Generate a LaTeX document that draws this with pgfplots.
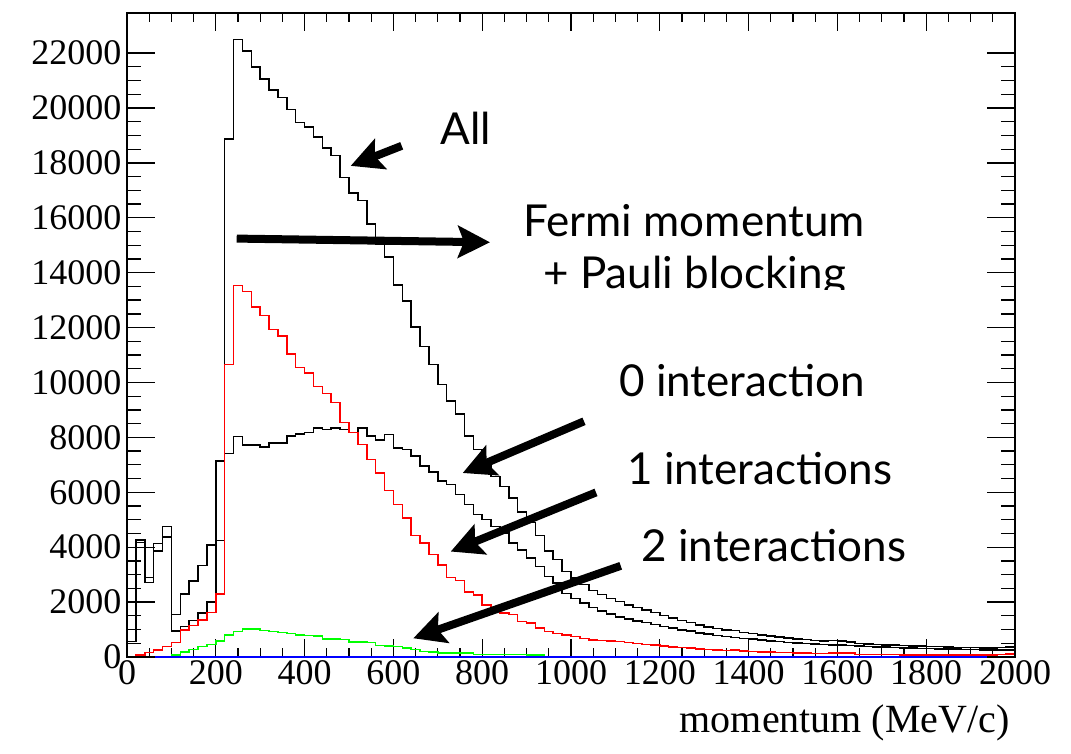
\documentclass[border=0pt]{standalone}
\usepackage{fontspec}
\setmainfont{Liberation Serif}
\newfontfamily\gill{Lato}
\usepackage{pgfplots}
\usepackage{pgfplotstable}
\pgfplotsset{compat=1.18}
\usetikzlibrary{arrows.meta}

\pgfplotstableread{
x all zero one two
0 560 560 0 0
20 4270 4180 70 0
40 2900 2720 160 0
60 4130 3870 255 0
80 4750 4370 380 0
100 1540 940 530 70
120 2290 1110 990 190
140 2760 1330 1150 280
160 3330 1600 1350 380
180 4080 2000 1620 460
200 7135 4250 2300 585
220 18870 7420 10650 800
240 22500 8030 13540 930
260 22070 7730 13320 1020
280 21500 7730 12750 1020
300 21050 7650 12440 960
320 20650 7790 11930 930
340 20380 7790 11690 900
360 19950 8050 11040 860
380 19470 8120 10550 800
400 19310 8180 10350 780
420 18950 8340 9850 760
440 18540 8280 9600 660
460 18270 8340 9270 660
480 17460 8280 8540 640
500 16900 8180 8180 540
520 16630 8340 7750 540
540 15770 8050 7200 520
560 15025 7900 6710 415
580 14570 8100 6070 400
600 13560 7620 5560 380
620 12960 7560 5070 330
640 12020 7320 4420 280
660 11320 6960 4160 200
680 10660 6740 3730 190
700 9920 6410 3360 150
720 9330 6290 2900 140
740 8850 5920 2790 140
760 8050 5550 2360 140
780 7550 5200 2250 100
800 7000 5000 1900 100
820 6580 4760 1720 100
840 6220 4520 1600 100
860 5790 4150 1540 100
880 5290 3900 1290 100
900 4900 3600 1230 70
920 4420 3300 1050 70
940 3855 2930 925 0
960 3555 2690 865 0
980 3120 2320 800 0
1000 2880 2140 740 0
1020 2640 1960 680 0
1040 2420 1800 620 0
1060 2280 1680 600 0
1080 2140 1560 580 0
1100 2020 1460 560 0
1120 1900 1380 520 0
1140 1800 1310 490 0
1160 1710 1250 460 0
1180 1620 1190 430 0
1200 1510 1110 400 0
1220 1420 1050 370 0
1240 1330 990 340 0
1260 1260 940 320 0
1280 1170 880 290 0
1300 1100 830 270 0
1320 1040 790 250 0
1340 990 750 240 0
1360 960 710 250 0
1380 900 680 220 0
1400 850 650 200 0
1420 810 620 190 0
1440 770 590 180 0
1460 730 560 170 0
1480 695 535 160 0
1500 660 510 150 0
1520 630 490 140 0
1540 605 475 130 0
1560 580 460 120 0
1580 595 445 150 0
1600 580 430 150 0
1620 555 415 140 0
1640 500 400 100 0
1660 475 385 90 0
1680 462 372 90 0
1700 445 360 85 0
1720 433 348 85 0
1740 417 337 80 0
1760 407 327 80 0
1780 397 317 80 0
1800 383 308 75 0
1820 375 300 75 0
1840 367 292 75 0
1860 354 284 70 0
1880 347 277 70 0
1900 340 270 70 0
1920 334 264 70 0
1940 328 258 70 0
1960 352 252 100 0
1980 356 246 110 0
2000 356 246 110 0
}\histdata

\begin{document}
\begin{tikzpicture}
\useasboundingbox (0,0) rectangle (1071pt,753pt);
\begin{axis}[
  at={(127pt,96pt)}, anchor=south west,
  scale only axis, width=888pt, height=644pt,
  xmin=0, xmax=2000, ymin=0, ymax=23460,
  xtick={0,200,...,2000}, minor x tick num=3,
  ytick=\empty,
  tick align=inside,
  major tick length=18pt, minor tick length=9pt,
  axis line style={line width=1.4pt},
  every tick/.style={black, line width=1.3pt},
  xticklabel style={font=\fontsize{36}{36}\selectfont},
  /pgf/number format/assume math mode=true,
  /pgf/number format/1000 sep={},
  scaled x ticks=false,
  clip=false,
  xlabel={momentum (MeV/c)},
  xlabel style={at={(axis description cs:0.998,-0.118)}, anchor=base east, font=\fontsize{40}{40}\selectfont},
]
\addplot[const plot mark left, black, line width=1.5pt] table[x=x, y=all] {\histdata};
\addplot[const plot mark left, black, line width=1.5pt] table[x=x, y=zero] {\histdata};
\addplot[const plot mark left, red, line width=1.5pt] table[x=x, y=one] {\histdata};
\addplot[const plot mark left, green, line width=1.5pt] table[x=x, y=two] {\histdata};
\addplot[blue, line width=1.7pt] coordinates {(0,0) (2000,0)};

\node[anchor=base west, font=\gill\fontsize{44}{44}\selectfont] at (axis cs:698,18683) {All};
\node[anchor=base west, font=\gill\fontsize{44}{44}\selectfont] at (axis cs:885,15326) {Fermi momentum};
\begin{scope}
\clip (axis cs:0,13370) rectangle (axis cs:2000,23460);
\node[anchor=base west, font=\gill\fontsize{44}{44}\selectfont] at (axis cs:930,13440) {+ Pauli blocking};
\end{scope}
\node[anchor=base west, font=\gill\fontsize{44}{44}\selectfont] at (axis cs:1101,9487) {0 interaction};
\node[anchor=base west, font=\gill\fontsize{44}{44}\selectfont] at (axis cs:1119,6276) {1 interactions};
\node[anchor=base west, font=\gill\fontsize{44}{44}\selectfont] at (axis cs:1151,3467) {2 interactions};

\draw[line width=8pt, -{Stealth[length=32pt, width=32pt, inset=6pt]}] (axis cs:618.7,18621) -- (axis cs:503.8,17891);
\draw[line width=8pt, -{Stealth[length=32pt, width=32pt, inset=6pt]}] (axis cs:247.1,15242) -- (axis cs:817.6,15107);
\draw[line width=8pt, -{Stealth[length=32pt, width=32pt, inset=6pt]}] (axis cs:1029.3,8586) -- (axis cs:756.1,6703);
\draw[line width=8pt, -{Stealth[length=32pt, width=32pt, inset=6pt]}] (axis cs:1056.3,5995) -- (axis cs:729.1,3842);
\draw[line width=8pt, -{Stealth[length=32pt, width=32pt, inset=6pt]}] (axis cs:1112.0,3321) -- (axis cs:644.8,682);
\end{axis}
\begin{axis}[
  at={(127pt,96pt)}, anchor=south west,
  scale only axis, width=888pt, height=644pt,
  xmin=0, xmax=2000, ymin=0, ymax=23460,
  hide x axis,
  ytick={0,2000,...,22000}, minor y tick num=3,
  tick align=inside,
  major tick length=28pt, minor tick length=14pt,
  axis line style={line width=1.4pt},
  every tick/.style={black, line width=1.3pt},
  yticklabel style={font=\fontsize{36}{36}\selectfont, xshift=-2pt},
  /pgf/number format/assume math mode=true,
  /pgf/number format/1000 sep={},
  scaled y ticks=false,
]
\end{axis}
\end{tikzpicture}
\end{document}
